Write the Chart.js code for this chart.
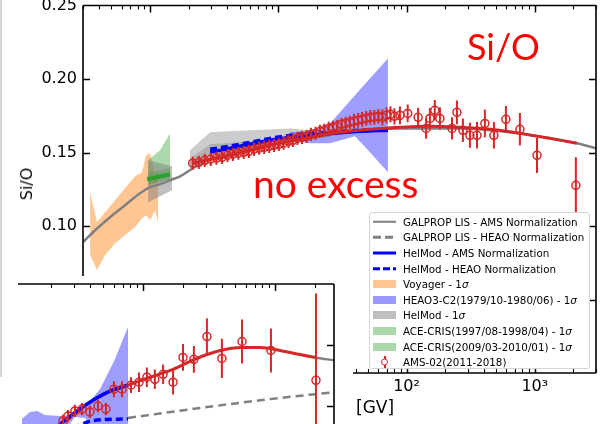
<!DOCTYPE html>
<html>
<head>
<meta charset="utf-8">
<title>Si/O</title>
<script src="https://cdn.jsdelivr.net/npm/chart.js@4.4.1/dist/chart.umd.min.js"></script>
<style>
  html, body { margin: 0; padding: 0; width: 602px; height: 424px; overflow: hidden; background: #fff; }
  canvas { position: absolute; left: 0; display: block; }
  #main { top: 0; }
  #inset { top: 276px; background: #fff; }
  #edge { position: absolute; left: 0; top: 0; width: 0; height: 377px; border-left: 2px solid #d6d6d6; }
  .note { position: absolute; color: #ff0000; font-family: Lato, "Open Sans", sans-serif; line-height: 1; white-space: nowrap; }
  #ttl { position: absolute; left: 27px; top: 184px; font: 16px "DejaVu Sans"; line-height: 1; white-space: nowrap; transform: translate(-50%, -50%) rotate(-90deg); }
  #gv { position: absolute; left: 356px; top: 399px; font: 17px "DejaVu Sans"; line-height: 1; }
  #legend { position: absolute; left: 369px; top: 212px; width: 219px; height: 155px; border: 1px solid #d5d5d5; border-radius: 3px; background: #fff; font: 10.3px "DejaVu Sans"; color: #000; }
  .row { height: 15.6px; display: flex; align-items: center; white-space: nowrap; }
  .row:first-child { margin-top: 1px; }
  .h { position: relative; width: 23px; height: 12px; margin: 0 7px 0 3px; flex: none; }
  .h > i { position: absolute; left: 0; right: 0; top: 50%; transform: translateY(-50%); }
  .sg { height: 2.5px; background: #808080; }
  .dg { height: 2.5px; background: repeating-linear-gradient(90deg, #808080 0 8px, transparent 8px 12px); }
  .sb { height: 3px; background: #0000ff; }
  .db { height: 3.5px; background: repeating-linear-gradient(90deg, #0000ff 0 7px, transparent 7px 10px); }
  .pt { height: 8px; }
  .h > i.bar { left: 10.5px; right: auto; width: 2px; height: 12px; background: #d62728; }
  .h > i.dot { left: 7.5px; right: auto; width: 5px; height: 5px; border: 1.5px solid #d62728; border-radius: 50%; background: #fff; }
</style>
</head>
<body>
<canvas id="main" width="602" height="424"></canvas>
<canvas id="inset" width="353" height="197"></canvas>
<div id="edge"></div>
<div id="ttl">Si/O</div>
<div id="gv">[GV]</div>
<div class="note" style="left:467px; top:28px; font-size:36px;">Si/O</div>
<div class="note" style="left:253px; top:164px; font-size:39px;">no excess</div>
<div id="legend">
  <div class="row"><span class="h"><i class="sg"></i></span>GALPROP LIS - AMS Normalization</div>
  <div class="row"><span class="h"><i class="dg"></i></span>GALPROP LIS - HEAO Normalization</div>
  <div class="row"><span class="h"><i class="sb"></i></span>HelMod - AMS Normalization</div>
  <div class="row"><span class="h"><i class="db"></i></span>HelMod - HEAO Normalization</div>
  <div class="row"><span class="h"><i class="pt" style="background:rgba(255,127,14,0.45)"></i></span>Voyager - 1<i>σ</i></div>
  <div class="row"><span class="h"><i class="pt" style="background:rgba(0,0,255,0.4)"></i></span>HEAO3-C2(1979/10-1980/06) - 1<i>σ</i></div>
  <div class="row"><span class="h"><i class="pt" style="background:rgba(128,128,128,0.5)"></i></span>HelMod - 1<i>σ</i></div>
  <div class="row"><span class="h"><i class="pt" style="background:rgba(44,160,44,0.4)"></i></span>ACE-CRIS(1997/08-1998/04) - 1<i>σ</i></div>
  <div class="row"><span class="h"><i class="pt" style="background:rgba(44,160,44,0.4)"></i></span>ACE-CRIS(2009/03-2010/01) - 1<i>σ</i></div>
  <div class="row"><span class="h"><i class="bar"></i><i class="dot"></i></span>AMS-02(2011-2018)</div>
</div>
<script>
// axes
const xTicks = [1, 10, 100, 1000];
const xTickLabels = ["10⁰", "10¹", "10²", "10³"];
const yTicks = [0, 0.05, 0.1, 0.15, 0.2, 0.25];

// AMS-02 Si/O (main panel)
const amsR = [2.15, 2.4, 2.67, 2.97, 3.29, 3.64, 4.02, 4.43, 4.88, 5.37, 5.9, 6.47, 7.09, 7.76, 8.48, 9.26, 10.1, 11.0, 12.0, 13.0, 14.1, 15.3, 16.6, 18.0, 19.5, 21.1, 22.8, 24.7, 26.7, 28.8, 31.1, 33.5, 36.1, 38.9, 41.9, 45.1, 48.5, 52.2, 56.1, 60.3, 64.8, 69.7, 74.9, 80.5, 88.8, 102, 123, 142, 152, 166, 182, 226, 247, 275, 312, 354, 408, 480, 595, 765, 1040, 2090];
const amsVal = [0.1427, 0.1433, 0.1447, 0.1454, 0.1461, 0.1467, 0.1481, 0.1488, 0.1495, 0.1501,
  0.1508, 0.1522, 0.1529, 0.1535, 0.1542, 0.1549, 0.1556, 0.1563, 0.1576, 0.1583,
  0.1596, 0.1603, 0.161, 0.1624, 0.163, 0.1644, 0.1651, 0.1664, 0.1671, 0.1678,
  0.1692, 0.1698, 0.1705, 0.1712, 0.1719, 0.1726, 0.1732, 0.1739, 0.1739, 0.1746,
  0.1739, 0.1753, 0.176, 0.1746, 0.1753, 0.1766, 0.1739, 0.1664, 0.1732, 0.1787,
  0.1732, 0.1664, 0.1773, 0.1651, 0.1617, 0.1617, 0.1698, 0.1617, 0.1726, 0.1658,
  0.1481, 0.1277];
const amsErr = [0.0045, 0.0045, 0.0045, 0.0045, 0.0045, 0.0045, 0.0045, 0.0045, 0.0045, 0.0045,
  0.0045, 0.0045, 0.0045, 0.0045, 0.0045, 0.0045, 0.0045, 0.0045, 0.0045, 0.0045,
  0.0045, 0.0045, 0.0045, 0.0045, 0.0045, 0.0045, 0.0045, 0.0045, 0.0045, 0.0045,
  0.0045, 0.0045, 0.0045, 0.005, 0.005, 0.005, 0.005, 0.005, 0.005, 0.005,
  0.0055, 0.0055, 0.0055, 0.0055, 0.006, 0.006, 0.0065, 0.007, 0.007, 0.007,
  0.0075, 0.0075, 0.008, 0.008, 0.0085, 0.009, 0.0095, 0.009, 0.009, 0.011,
  0.012, 0.019];

// model curves (main panel)
const fitR = [2.16, 2.94, 3.71, 6.02, 10.3, 17.7, 30.3, 51.8, 88.8, 152, 261, 447, 765, 1312, 2129];
const fitVal = [0.1427, 0.1454, 0.1467, 0.1515, 0.1563, 0.1603, 0.1637, 0.1658, 0.1671, 0.1678, 0.1671, 0.1658, 0.163, 0.1596, 0.1563];
const lisR = [0.3005, 0.3727, 0.4879, 0.6383, 0.8359, 1.0, 1.196, 1.431, 1.713, 2.16, 3.1, 5.03, 10.3, 30.3, 88.8, 261, 765, 2129, 2995];
const lisVal = [0.089, 0.0971, 0.106, 0.1141, 0.1223, 0.1264, 0.1284, 0.1311, 0.1338, 0.1393, 0.1461, 0.1508, 0.1563, 0.163, 0.1664, 0.1664, 0.163, 0.1563, 0.1529];
const helR = [2.94, 5.03, 8.62, 14.77, 25.3, 43.3, 71.6];
const helAms = [0.1501, 0.1542, 0.1583, 0.161, 0.163, 0.1644, 0.1651];
const helHeao = [0.1522, 0.1556, 0.1596, 0.1624, 0.1637, 0.1651, 0.1658];
const aceLineR = [0.948, 1.431];
const aceLineVal = [0.1318, 0.1352];

// 1 sigma bands (main panel)
const voyR = [0.3406, 0.3863, 0.4461, 0.5336, 0.6383, 0.7641, 0.8661, 0.9307, 1.0, 1.094, 1.154];
const voyHi = [0.123, 0.1026, 0.1094, 0.1175, 0.1257, 0.1338, 0.1365, 0.1481, 0.1495, 0.1345, 0.1372];
const voyLo = [0.0802, 0.07, 0.0802, 0.0883, 0.0938, 0.0992, 0.1053, 0.1073, 0.1039, 0.1107, 0.1026];
const heaoR = [12.34, 17.7, 25.3, 39.6, 51.8, 71.6];
const heaoHi = [0.1637, 0.1644, 0.1698, 0.1889, 0.2004, 0.214];
const heaoLo = [0.1583, 0.1563, 0.1563, 0.161, 0.1501, 0.1365];
const helBandR1 = [0.965, 1.196, 1.484];
const helBandHi1 = [0.1447, 0.1427, 0.1406];
const helBandLo1 = [0.1162, 0.1202, 0.1243];
const helBandR2 = [2.05, 2.94, 6.02, 12.34, 25.3];
const helBandHi2 = [0.1515, 0.1637, 0.1651, 0.1664, 0.1637];
const helBandIn2 = [0.146, 0.1556, 0.1576, 0.1603, 0.161];
const helBandLo2 = [0.1393, 0.1481, 0.1529, 0.1569, 0.161];
const aceR = [0.965, 1.196, 1.431];
const ace1Hi = [0.1447, 0.1515, 0.163];
const ace1Lo = [0.1277, 0.1298, 0.1311];
const ace2Hi = [0.1365, 0.1379, 0.1393];
const ace2Lo = [0.1284, 0.1304, 0.1325];

// lower-left panel
const insetR = [24.8, 27.0, 30.5, 34.5, 39.6, 45.6, 52.4, 60.2, 69.3, 81.1, 93.3, 107, 123, 142, 169, 201, 243, 305, 396, 563, 932, 2044];
const insetVal = [0.1381, 0.1421, 0.1462, 0.1478, 0.1454, 0.1502, 0.1478, 0.164, 0.164, 0.1673, 0.1697, 0.1738, 0.1721, 0.1762, 0.1697, 0.19, 0.1884, 0.207, 0.1892, 0.203, 0.1957, 0.1713];
const insetErr = [0.005, 0.005, 0.005, 0.005, 0.005, 0.005, 0.005, 0.0065, 0.0065, 0.0065, 0.008, 0.008, 0.008, 0.008, 0.01, 0.011, 0.011, 0.015, 0.016, 0.018, 0.018, 0.071];
const insFitR = [19.7, 24.3, 33.3, 43.3, 56.2, 77.0, 113, 169, 227, 305, 418, 563, 769, 1091, 1545, 2009];
const insFitVal = [0.1283, 0.1365, 0.1478, 0.1559, 0.1624, 0.1673, 0.1738, 0.1803, 0.1867, 0.1924, 0.1965, 0.1981, 0.1981, 0.1957, 0.1924, 0.19];
const insLisR = [1545, 2009, 2800];
const insLisVal = [0.1924, 0.19, 0.1876];
const insLisHeaoR = [77.0, 270, 916, 2800];
const insLisHeaoVal = [0.1405, 0.1486, 0.1559, 0.1616];
const insHelR = [19.7, 24.3, 33.3, 43.3, 56.2, 77.0];
const insHelVal = [0.1283, 0.1365, 0.1478, 0.1559, 0.1624, 0.1673];
const insHelHeaoR = [25.0, 41.1, 77.0];
const insHelHeaoVal = [0.128, 0.1381, 0.1397];
const insHeaoR = [12.1, 13.9, 15.8, 18.1, 23.5, 30.5, 36.4, 47.2, 61.3, 77.0];
const insHeaoHi = [0.1397, 0.1454, 0.1462, 0.1429, 0.1421, 0.1429, 0.1494, 0.164, 0.1884, 0.2151];
const insHeaoLo = [0.105, 0.108, 0.11, 0.115, 0.125, 0.1413, 0.1405, 0.125, 0.118, 0.115];

const red = "#d62728", blue = "#0000ff", gray = "#808080", green = "#2ca02c";
const font = "DejaVu Sans";

Chart.defaults.animation = false;
Chart.defaults.events = [];
Chart.defaults.elements.point.radius = 0;
Chart.defaults.elements.point.hoverRadius = 0;

const pts = (xs, ys) => xs.map((x, i) => ({ x, y: ys[i] }));
const curve = (xs, ys, color, width, dash) => ({ data: pts(xs, ys), borderColor: color, borderWidth: width, borderDash: dash || [], cubicInterpolationMode: "monotone", fill: false });
const band = (xs, hi, lo, color) => [
  { data: pts(xs, hi), borderWidth: 0, borderColor: "rgba(0,0,0,0)", fill: false },
  { data: pts(xs, lo), borderWidth: 0, borderColor: "rgba(0,0,0,0)", backgroundColor: color, fill: "-1" },
];
const ams = (xs, ys, err) => ({ data: pts(xs, ys), errors: err, showLine: false, borderColor: red, pointRadius: 4, pointBorderWidth: 1.5, pointBorderColor: red, pointBackgroundColor: "rgba(0,0,0,0)" });

const errorBars = {
  id: "errorBars",
  beforeDatasetDraw(chart, args) {
    const ds = chart.data.datasets[args.index];
    if (!ds.errors) return;
    const { ctx, chartArea: a, scales: { x, y } } = chart;
    ctx.save();
    ctx.beginPath();
    ctx.rect(a.left, a.top, a.right - a.left, a.bottom - a.top);
    ctx.clip();
    ctx.strokeStyle = red;
    ctx.lineWidth = 2;
    ctx.beginPath();
    ds.data.forEach((p, i) => {
      const px = x.getPixelForValue(p.x);
      ctx.moveTo(px, y.getPixelForValue(p.y - ds.errors[i]));
      ctx.lineTo(px, y.getPixelForValue(p.y + ds.errors[i]));
    });
    ctx.stroke();
    ctx.restore();
  },
};

// spines and inward ticks, matplotlib style
const frame = {
  id: "frame",
  afterDraw(chart, args, o) {
    const { ctx, chartArea: a, scales: { x, y } } = chart;
    ctx.save();
    ctx.strokeStyle = "#000";
    ctx.lineWidth = 1.6;
    ctx.beginPath();
    if (o.top) { ctx.moveTo(a.left, a.top); ctx.lineTo(a.right, a.top); }
    if (o.bottom) { ctx.moveTo(a.left, a.bottom); ctx.lineTo(a.right, a.bottom); }
    if (o.left) { ctx.moveTo(a.left, a.top); ctx.lineTo(a.left, a.bottom); }
    if (o.right) { ctx.moveTo(a.right, a.top); ctx.lineTo(a.right, a.bottom); }
    ctx.stroke();
    const lo = Math.floor(Math.log10(x.min)), hi = Math.ceil(Math.log10(x.max));
    for (let n = lo; n <= hi; n++) {
      for (let k = 1; k < 10; k++) {
        const v = k * Math.pow(10, n);
        if (v < x.min || v > x.max) continue;
        const px = Math.round(x.getPixelForValue(v)) + 0.5, len = k === 1 ? 7 : 4;
        ctx.lineWidth = k === 1 ? 1.5 : 1.1;
        ctx.beginPath();
        if (o.top) { ctx.moveTo(px, a.top); ctx.lineTo(px, a.top + len); }
        if (o.bottom) { ctx.moveTo(px, a.bottom); ctx.lineTo(px, a.bottom - len); }
        ctx.stroke();
      }
    }
    ctx.lineWidth = 1.5;
    ctx.beginPath();
    o.yMajor.forEach((v) => {
      if (v <= y.min || v >= y.max) return;
      const py = Math.round(y.getPixelForValue(v)) + 0.5;
      if (o.left) { ctx.moveTo(a.left, py); ctx.lineTo(a.left + 7, py); }
      if (o.right) { ctx.moveTo(a.right, py); ctx.lineTo(a.right - 7, py); }
    });
    ctx.stroke();
    ctx.restore();
  },
};

const noPad = (s) => { s.paddingTop = 0; s.paddingBottom = 0; s.paddingLeft = 0; s.paddingRight = 0; };

new Chart(document.getElementById("main"), {
  type: "line",
  data: {
    datasets: [
      ams(amsR, amsVal, amsErr),
      curve(fitR, fitVal, red, 3),
      curve(helR, helHeao, blue, 3.5, [7, 4]),
      curve(helR, helAms, blue, 3.5),
      curve(aceLineR, aceLineVal, green, 4),
      curve(lisR, lisVal, gray, 2.5),
      ...band(heaoR, heaoHi, heaoLo, "rgba(0,0,255,0.38)"),
      ...band(helBandR1, helBandHi1, helBandLo1, "rgba(128,128,128,0.5)"),
      ...band(helBandR2, helBandHi2, helBandLo2, "rgba(128,128,128,0.4)"),
      ...band(helBandR2, helBandIn2, helBandLo2, "rgba(128,128,128,0.35)"),
      ...band(aceR, ace2Hi, ace2Lo, "rgba(44,160,44,0.4)"),
      ...band(aceR, ace1Hi, ace1Lo, "rgba(44,160,44,0.4)"),
      ...band(voyR, voyHi, voyLo, "rgba(255,127,14,0.45)"),
    ],
  },
  options: {
    responsive: false,
    layout: { padding: { top: 5, right: 6, left: 0, bottom: 0 } },
    plugins: {
      legend: { display: false },
      tooltip: { enabled: false },
      frame: { top: true, bottom: true, left: true, right: true, yMajor: yTicks },
    },
    scales: {
      x: {
        type: "logarithmic", min: 0.3, max: 3000,
        grid: { display: false, drawTicks: false }, border: { display: false },
        afterBuildTicks: (s) => { s.ticks = xTicks.map((value) => ({ value })); },
        ticks: { autoSkip: false, maxRotation: 0, padding: 4, color: "#000", font: { family: font, size: 16 }, callback: (v, i) => xTickLabels[i] },
        afterFit: (s) => { s.height = 51; noPad(s); },
      },
      y: {
        min: 0, max: 0.25,
        grid: { display: false, drawTicks: false }, border: { display: false },
        afterBuildTicks: (s) => { s.ticks = yTicks.map((value) => ({ value })); },
        ticks: { padding: 6, color: "#000", font: { family: font, size: 16 }, callback: (v) => v.toFixed(2) },
        afterFit: (s) => { s.width = 83; noPad(s); },
      },
    },
  },
  plugins: [errorBars, frame],
});

new Chart(document.getElementById("inset"), {
  type: "line",
  data: {
    datasets: [
      ams(insetR, insetVal, insetErr),
      curve(insHelR, insHelVal, blue, 3.5),
      curve(insHelHeaoR, insHelHeaoVal, blue, 3.5, [7, 4]),
      curve(insFitR, insFitVal, red, 3),
      curve(insLisR, insLisVal, gray, 2.5),
      curve(insLisHeaoR, insLisHeaoVal, gray, 2.5, [8, 5]),
      ...band(insHeaoR, insHeaoHi, insHeaoLo, "rgba(0,0,255,0.38)"),
    ],
  },
  options: {
    responsive: false,
    layout: { padding: { top: 8, right: 19, left: 18, bottom: 4 } },
    plugins: {
      legend: { display: false },
      tooltip: { enabled: false },
      frame: { top: true, bottom: false, left: false, right: true, yMajor: [0.15, 0.2] },
    },
    scales: {
      x: { type: "logarithmic", min: 11.3, max: 2800, display: false },
      y: { min: 0.1, max: 0.25, display: false },
    },
  },
  plugins: [errorBars, frame],
});
</script>
</body>
</html>
